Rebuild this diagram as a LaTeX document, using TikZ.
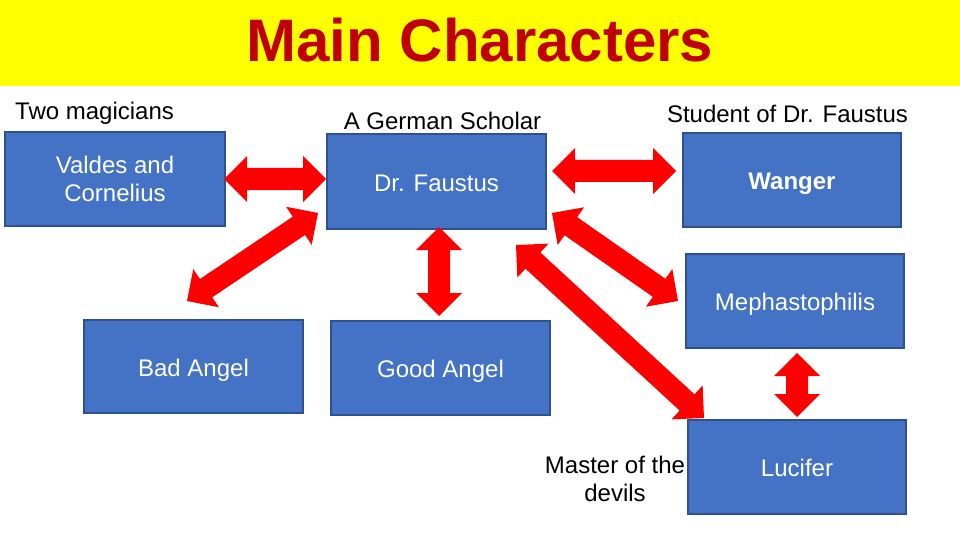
\documentclass[tikz,border=0pt]{standalone}
\usepackage{fontspec}
\setmainfont{Liberation Sans}
\usetikzlibrary{calc}
\definecolor{boxfill}{HTML}{4472C4}
\definecolor{boxline}{HTML}{2F528F}
\definecolor{titlered}{HTML}{C00000}
\definecolor{banner}{HTML}{FFFF00}
\definecolor{arrowred}{HTML}{FF0000}
\tikzset{
  box/.style={draw=boxline, line width=1.5pt, fill=boxfill, text=white, align=center,
    inner sep=0pt, font=\fontsize{24}{28}\selectfont},
  oneline/.style={text height=24pt, text depth=5pt},
  lbl/.style={text=black, align=center, inner sep=0pt, font=\fontsize{24}{28}\selectfont},
}
% double block arrow between two named coordinates: head length 23, half head width 23, half shaft 11
\newcommand{\dblarr}[2]{%
  \fill[arrowred] (#1)
    -- ($(#1)!23pt!(#2)!23pt!90:(#2)$)
    -- ($(#1)!23pt!(#2)!11pt!90:(#2)$)
    -- ($(#2)!23pt!(#1)!11pt!-90:(#1)$)
    -- ($(#2)!23pt!(#1)!23pt!-90:(#1)$)
    -- (#2)
    -- ($(#2)!23pt!(#1)!23pt!90:(#1)$)
    -- ($(#2)!23pt!(#1)!11pt!90:(#1)$)
    -- ($(#1)!23pt!(#2)!11pt!-90:(#2)$)
    -- ($(#1)!23pt!(#2)!23pt!-90:(#2)$)
    -- cycle;}
\begin{document}
\begin{tikzpicture}[x=1pt,y=-1pt]
\useasboundingbox (0,0) rectangle (960,540);
\fill[white] (0,0) rectangle (960,540);
\fill[banner] (0,0) rectangle (960,86);
\node[anchor=base, inner sep=0pt, text=titlered, font=\fontsize{60}{70}\selectfont\bfseries] (title) at (480,62) {Main Characters};

% boxes
\node[box, minimum width=220pt, minimum height=94pt] (valdes) at (115,179) {Valdes and\\Cornelius};
\node[box, oneline, minimum width=219pt, minimum height=95pt] (faustus) at (436.5,181.5) {Dr. Faustus};
\node[box, oneline, minimum width=218pt, minimum height=94pt, font=\fontsize{24}{28}\selectfont\bfseries] (wanger) at (792,180) {Wanger};
\node[box, oneline, minimum width=218pt, minimum height=94pt] (meph) at (795,301) {Mephastophilis};
\node[box, oneline, minimum width=218pt, minimum height=94pt] (lucifer) at (797,467) {Lucifer};
\node[box, oneline, minimum width=219pt, minimum height=93pt] (bad) at (193.5,366.5) {Bad Angel};
\node[box, oneline, minimum width=219pt, minimum height=94pt] (good) at (440.5,368) {Good Angel};

% labels
\node[lbl, anchor=west] (lmag) at (15,113) {Two magicians};
\node[lbl] (lger) at (442.5,121) {A German Scholar};
\node[lbl] (lstu) at (787.5,114) {Student of Dr. Faustus};
\node[lbl] (lmas) at (615,479) {Master of the\\devils};

% arrow end points
\coordinate (a1s) at (224,179);
\coordinate (a1e) at (326,179);
\coordinate (a2s) at (552,171);
\coordinate (a2e) at (676,171);
\coordinate (a3s) at (318,213);
\coordinate (a3e) at (187,301);
\coordinate (a4s) at (439,227);
\coordinate (a4e) at (439,316);
\coordinate (a5s) at (552,213);
\coordinate (a5e) at (678,301);
\coordinate (a6s) at (516,245);
\coordinate (a6e) at (704,418);
\coordinate (a7s) at (797,353);
\coordinate (a7e) at (797,417);

\dblarr{a1s}{a1e}
\dblarr{a2s}{a2e}
\dblarr{a3s}{a3e}
\dblarr{a4s}{a4e}
\dblarr{a5s}{a5e}
\dblarr{a6s}{a6e}
\dblarr{a7s}{a7e}
\end{tikzpicture}
\end{document}
